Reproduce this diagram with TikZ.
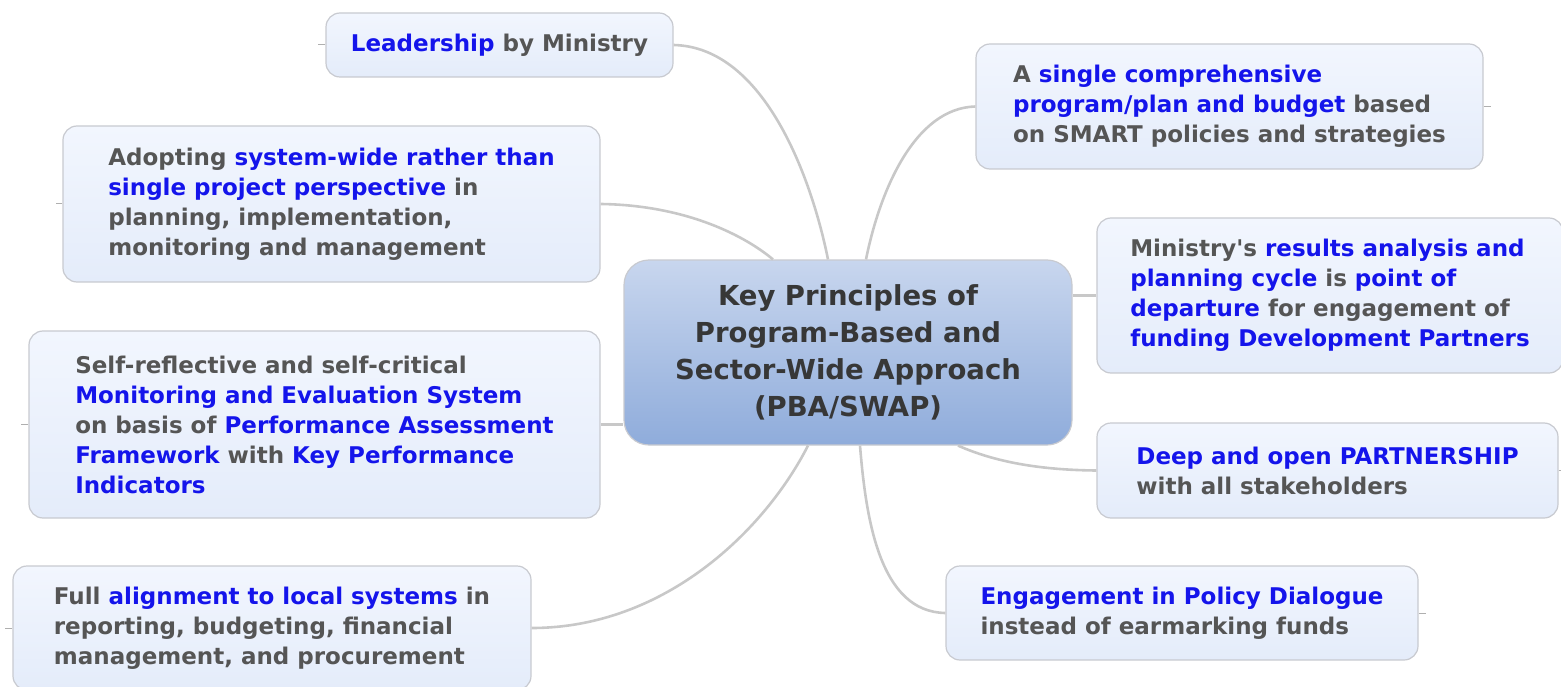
\documentclass[tikz,border=0pt]{standalone}
\usepackage{fontspec}
\setmainfont{DejaVu Sans}
\usetikzlibrary{calc}
\definecolor{hl}{RGB}{20,20,235}
\definecolor{txt}{RGB}{85,85,85}
\definecolor{ctxt}{RGB}{55,55,55}
\definecolor{boxline}{RGB}{200,202,208}
\definecolor{boxtop}{RGB}{242,246,254}
\definecolor{boxbot}{RGB}{228,236,250}
\definecolor{ctop}{RGB}{200,214,238}
\definecolor{cmid}{RGB}{158,186,226}
\definecolor{cbot}{RGB}{143,172,219}
\definecolor{conncol}{RGB}{200,200,200}
\definecolor{stubcol}{RGB}{175,175,175}
\newcommand{\hb}[1]{\textcolor{hl}{#1}}
\begin{document}
\begin{tikzpicture}[x=1pt,y=-1pt,
  box/.style={draw=boxline, line width=1.2pt, rounded corners=14pt,
    top color=boxtop, bottom color=boxbot, inner sep=0pt, align=left,
    text=txt, font=\fontsize{23}{30}\selectfont\bfseries},
  centerbox/.style={draw=boxline, line width=1.2pt, rounded corners=25pt,
    top color=ctop, middle color=cmid, bottom color=cbot, inner sep=0pt,
    align=center, text=ctxt, font=\fontsize{27.5}{37}\selectfont\bfseries},
  conn/.style={draw=conncol, line width=2.6pt},
  stub/.style={draw=stubcol, line width=1pt}]
\useasboundingbox (0,0) rectangle (1561,687);

% center
\node[centerbox, minimum width=448pt, minimum height=185pt] (c) at (848,352.5)
  {Key Principles of\\Program-Based and\\Sector-Wide Approach\\(PBA/SWAP)};

% left boxes
\node[box, minimum width=347pt, minimum height=64pt] (b1) at (499.5,45)
  {\hb{Leadership} by Ministry};
\node[box, minimum width=537pt, minimum height=156pt] (b2) at (331.5,204)
  {Adopting \hb{system-wide rather than}\\\hb{single project perspective} in\\planning, implementation,\\monitoring and management};
\node[box, minimum width=571pt, minimum height=187pt] (b3) at (314.5,424.5)
  {Self-reflective and self-critical\\\hb{Monitoring and Evaluation System}\\on basis of \hb{Performance Assessment}\\\hb{Framework} with \hb{Key Performance}\\\hb{Indicators}};
\node[box, minimum width=518pt, minimum height=124pt] (b4) at (272,628)
  {Full \hb{alignment to local systems} in\\reporting, budgeting, financial\\management, and procurement};

% right boxes
\node[box, minimum width=507pt, minimum height=125pt] (b6) at (1229.5,106.5)
  {A \hb{single comprehensive}\\\hb{program/plan and budget} based\\on SMART policies and strategies};
\node[box, minimum width=466pt, minimum height=155pt] (b7) at (1330,295.5)
  {Ministry\textquotesingle s \hb{results analysis and}\\\hb{planning cycle} is \hb{point of}\\\hb{departure} for engagement of\\\hb{funding Development Partners}};
\node[box, minimum width=461pt, minimum height=95pt] (b8) at (1327.5,470.5)
  {\hb{Deep and open PARTNERSHIP}\\with all stakeholders};
\node[box, minimum width=472pt, minimum height=94pt] (b9) at (1182,613)
  {\hb{Engagement in Policy Dialogue}\\instead of earmarking funds};

% connectors
\draw[conn] (b1.east) .. controls (765,47) and (812,180) .. ($(c.north)+(-20,0)$);
\draw[conn] (b6.west) .. controls (915,108) and (880,190) .. ($(c.north)+(18,0)$);
\draw[conn] (b2.east) .. controls (680,205) and (740,232) .. ($(c.north)+(-75,0)$);
\draw[conn] (b3.east) -- (c.west |- b3.east);
\draw[conn] (b4.east) .. controls (665,628) and (765,530) .. ($(c.south)+(-40,0)$);
\draw[conn] (b7.west) -- (c.east |- b7.west);
\draw[conn] (b8.west) .. controls (1040,470) and (995,462) .. ($(c.south)+(110,0)$);
\draw[conn] (b9.west) .. controls (880,612) and (866,520) .. ($(c.south)+(12,0)$);

% collapsed-branch stubs
\coordinate (s1) at (318,45);
\coordinate (s2) at (56,204);
\coordinate (s3) at (21,424.5);
\coordinate (s4) at (5,628);
\coordinate (s6) at (1491,106.5);
\coordinate (s8) at (1561,470.5);
\coordinate (s9) at (1426,613);
\draw[stub] (b1.west) -- (s1);
\draw[stub] (b2.west) -- (s2);
\draw[stub] (b3.west) -- (s3);
\draw[stub] (b4.west) -- (s4);
\draw[stub] (b6.east) -- (s6);
\draw[stub] (b8.east) -- (s8);
\draw[stub] (b9.east) -- (s9);
\end{tikzpicture}
\end{document}
